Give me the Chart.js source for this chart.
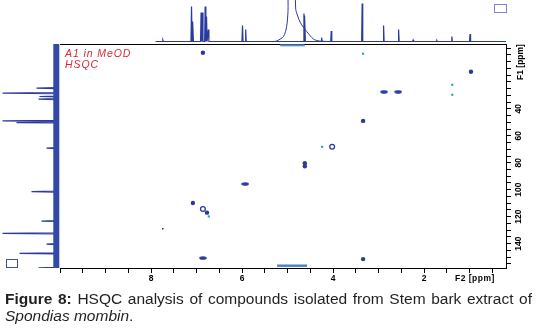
<!DOCTYPE html>
<html><head><meta charset="utf-8">
<script src="https://cdn.jsdelivr.net/npm/chart.js@4.4.1/dist/chart.umd.min.js"></script>
<style>
html,body{margin:0;padding:0;background:#fff;width:537px;height:330px;overflow:hidden;font-family:"Liberation Sans",Arial,sans-serif;}
canvas{position:absolute;}
.t{position:absolute;white-space:nowrap;}
</style></head><body>
<canvas id="topc" width="446" height="42" style="left:60px;top:0px"></canvas>
<canvas id="leftc" width="60" height="224" style="left:0px;top:44px"></canvas>
<canvas id="mainc" width="537" height="290" style="left:0px;top:0px"></canvas>
<div class="t" style="left:65px;top:48px;font:italic 10.5px 'Liberation Sans';letter-spacing:0.9px;color:#d42a36;line-height:10.5px">A1 in MeOD</div>
<div class="t" style="left:65px;top:59px;font:italic 10.5px 'Liberation Sans';letter-spacing:0.9px;color:#d42a36;line-height:10.5px">HSQC</div>
<div class="t" style="left:455px;top:274px;font:bold 8.5px 'Liberation Sans';letter-spacing:0.5px;color:#000;line-height:9px">F2 [ppm]</div>
<div class="t" style="left:500px;top:57px;width:40px;height:10px;text-align:center;font:bold 8.5px 'Liberation Sans';color:#000;line-height:10px;transform:rotate(-90deg)">F1 [ppm]</div>
<div style="position:absolute;left:494px;top:4px;width:11px;height:7px;border:1px solid #7b86cc"></div>
<div style="position:absolute;left:6px;top:259px;width:10px;height:7px;border:1px solid #3a4fae"></div>
<div style="position:absolute;left:5px;top:290px;width:527px;font:15.5px 'Liberation Sans';line-height:17px;text-align:justify;color:#231f20"><b>Figure 8:</b> HSQC analysis of compounds isolated from Stem bark extract of <i>Spondias mombin</i>.</div>
<script>
// ---- axis ranges / tick labels ----
const f2Range = [0.2, 10];          // 1H, F2 [ppm]
const f1Range = [-8, 158];          // 13C, F1 [ppm]
const xTickLabels = [2, 4, 6, 8];
const yTickLabels = [40, 60, 80, 100, 120, 140];

// ---- 2D cross peaks: [F2 (1H ppm), F1 (13C ppm)] ----
const peaksBlue = [[6.86,-1.5],[3.34,49.0],[0.97,12.6],[4.62,80.3],[4.62,82.6],[7.08,109.8],[6.77,117.0],[3.34,151.4]];
const peaksBlueWide = [[2.88,27.4],[2.57,27.4],[5.93,95.7],[6.86,150.6]];
const peaksCyan = [[3.34,-0.8],[1.38,22.2],[1.38,29.6],[4.24,68.2],[6.73,119.8]];
const peaksRing = [[4.02,68.2],[6.86,114.3]];
const peaksTiny = [[7.74,129.0]];
const ridgeTop = [[5.16,-7.0],[4.62,-7.0]];
const ridgeBottom = [[5.23,156.3],[4.57,156.3]];

// ---- 1H projection (top) ----
const h1Shifts  = [7.74,7.11,7.08,6.90,6.87,6.81,6.78,6.74,5.99,5.92,4.64,4.62,4.25,4.04,3.36,2.89,2.56,2.24,1.72,1.39,0.99];
const h1Heights = [1.5, 35,  20,  29,  29,  35,  25,  12,  16,  12,  28,  26,  4,   10.5,38,  16,  12,  1.5, 1,   5,   7.4];
const waterShifts  = [5.30,5.24,5.09,5.02,4.99,4.97,4.85,4.82,4.80,4.75,4.69,4.58,4.43,4.30,4.10];
const waterHeights = [0,   0.5, 5,   15,  30,  50,  50,  32,  28.7,22,  16.7,10,  2.4, 0.5, 0];

// ---- 13C projection (left) ----
const c13Shifts  = [24.7,28.4,30.9,32.8,49.0,50.2,69.2,101.4,123.2,132.3,140.3,147.2,157.8];
const c13Heights = [20,  54,  17,  18,  54,  40,  10,  25,   15,   54,   10,   37,   18];

const BLUE = '#2a3a9e', CYAN = '#2aa0b4';

function spikeLine(shifts, heights, half, base, from, to) {
  const idx = shifts.map((s,i)=>i).sort((a,b)=>shifts[b]-shifts[a]);
  const pts = [{p:from, v:base}];
  idx.forEach(i => {
    pts.push({p:shifts[i]+half, v:base});
    pts.push({p:shifts[i], v:base+heights[i]});
    pts.push({p:shifts[i]-half, v:base});
  });
  pts.push({p:to, v:base});
  return pts;
}
const toXY = a => a.map(p => ({x:p[0], y:p[1]}));
const common = {responsive:false, animation:false, devicePixelRatio:1,
  plugins:{legend:{display:false}, tooltip:{enabled:false}}};

// top projection
const topPts = spikeLine(h1Shifts, h1Heights, 0.012, 0.5, 7.9, f2Range[0]);
new Chart(document.getElementById('topc'), {
  type:'scatter',
  data:{datasets:[
    {data: topPts.map(o=>({x:o.p, y:o.v})), showLine:true, borderColor:BLUE, borderWidth:1.2, pointRadius:0},
    {data: waterShifts.map((s,i)=>({x:s, y:waterHeights[i]+0.5})), showLine:true, borderColor:BLUE, borderWidth:1, pointRadius:0, tension:0.3}
  ]},
  options:{...common, layout:{padding:0},
    scales:{x:{type:'linear', min:f2Range[0], max:f2Range[1], reverse:true, display:false},
            y:{type:'linear', min:0, max:42, display:false}}}
});

// left projection
const leftPts = spikeLine(c13Shifts, c13Heights, 0.35, 3.5, f1Range[0], f1Range[1]);
new Chart(document.getElementById('leftc'), {
  type:'scatter',
  data:{datasets:[
    {data:[{x:3.7, y:f1Range[0]},{x:3.7, y:f1Range[1]}], showLine:true, borderColor:'#3249a8', borderWidth:6, pointRadius:0},
    {data: leftPts.map(o=>({x:o.v, y:o.p})), showLine:true, borderColor:BLUE, borderWidth:1.2, pointRadius:0}
  ]},
  options:{...common, layout:{padding:0},
    scales:{x:{type:'linear', min:0, max:60, reverse:true, display:false},
            y:{type:'linear', min:f1Range[0], max:f1Range[1], reverse:true, display:false}}}
});

// main HSQC
const ell = document.createElement('canvas'); ell.width = 8; ell.height = 4;
{ const c = ell.getContext('2d'); c.fillStyle = BLUE; c.beginPath(); c.ellipse(4,2,3.8,1.8,0,0,Math.PI*2); c.fill(); }
const font = {family:"'Liberation Sans', Arial, sans-serif", size:8.5, weight:'bold'};
new Chart(document.getElementById('mainc'), {
  type:'scatter',
  data:{datasets:[
    {data:toXY(ridgeTop), showLine:true, borderColor:'#5a90c8', borderWidth:2, pointRadius:0},
    {data:toXY(ridgeBottom), showLine:true, borderColor:'#4f86c2', borderWidth:2.5, pointRadius:0},
    {data:toXY(peaksBlue), pointRadius:2.2, backgroundColor:BLUE, borderColor:BLUE, borderWidth:0},
    {data:toXY(peaksBlueWide), pointStyle:ell, backgroundColor:BLUE},
    {data:toXY(peaksRing), pointRadius:2.4, backgroundColor:'rgba(255,255,255,0)', borderColor:BLUE, borderWidth:1.3},
    {data:toXY(peaksCyan), pointStyle:'rect', pointRadius:1.5, backgroundColor:CYAN, borderColor:CYAN, borderWidth:0},
    {data:toXY(peaksTiny), pointRadius:0.8, backgroundColor:'#000', borderWidth:0}
  ]},
  options:{...common,
    layout:{padding:{left:60, top:44, right:0, bottom:0}},
    scales:{
      x:{type:'linear', position:'bottom', min:f2Range[0], max:f2Range[1], reverse:true,
         afterFit:s=>{s.height = 22;},
         border:{display:true, color:'#000', width:1},
         grid:{drawOnChartArea:false, drawTicks:true, tickLength:5, color:'#000'},
         ticks:{stepSize:0.5, includeBounds:false, autoSkip:false, maxRotation:0, padding:1, color:'#000', font,
                callback:v=> xTickLabels.includes(v) ? String(v) : ''}},
      x2:{type:'linear', position:'top', min:f2Range[0], max:f2Range[1], reverse:true,
         afterFit:s=>{s.height = 0;},
         border:{display:true, color:'#000', width:1},
         grid:{display:false}, ticks:{display:false}},
      y:{type:'linear', position:'right', min:f1Range[0], max:f1Range[1], reverse:true,
         afterFit:s=>{s.width = 31;},
         border:{display:true, color:'#000', width:1},
         grid:{drawOnChartArea:false, drawTicks:true, tickLength:5, color:'#000'},
         ticks:{stepSize:5, includeBounds:false, autoSkip:false, minRotation:90, maxRotation:90, crossAlign:'center', padding:1, color:'#000', font,
                callback:v=> yTickLabels.includes(v) ? String(v) : ''}}
    }}
});
</script>
</body></html>
